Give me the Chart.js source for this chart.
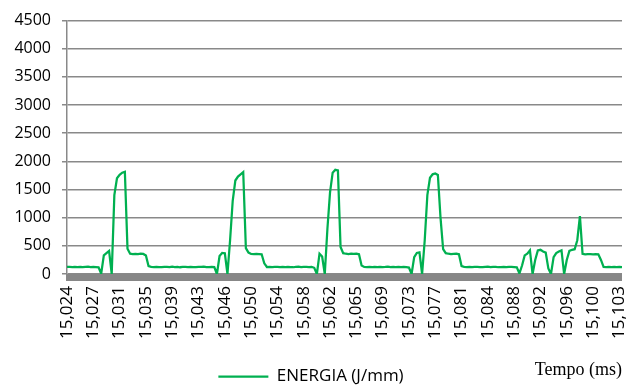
<!DOCTYPE html>
<html lang="pt">
<head>
<meta charset="utf-8">
<title>ENERGIA (J/mm)</title>
<script src="https://cdn.jsdelivr.net/npm/chart.js@4.4.1/dist/chart.umd.min.js"></script>
<style>
    body { margin: 0; background: #ffffff; }
    #chart { display: block; }
</style>
</head>
<body>
<canvas id="chart" width="627" height="390"></canvas>
<script>
const tickLabels = ['15,024', '15,027', '15,031', '15,035', '15,039', '15,043', '15,046', '15,050',
    '15,054', '15,058', '15,062', '15,065', '15,069', '15,073', '15,077', '15,081',
    '15,084', '15,088', '15,092', '15,096', '15,100', '15,103'];
const labelStep = 10;

const energia = [
    125, 128, 122, 126, 124, 127, 121, 125, 129, 123, 126, 124, 118,
    5, 330, 370, 410, 0, 1400, 1700, 1760, 1800, 1815, 450, 360, 355, 358, 352, 360, 356, 330, 140,
    126, 123, 128, 124, 121, 127, 125, 122, 129, 124, 126, 120, 125, 128, 123, 127, 124, 122, 126, 125, 129, 121, 124, 127, 123,
    0, 320, 375, 370, 0, 600, 1300, 1660, 1730, 1770, 1810, 460, 380, 355, 352, 358, 354, 350, 190,
    124, 127, 122, 126, 128, 121, 125, 123, 127, 124, 120, 126, 129, 122, 125, 127, 123, 126, 110,
    0, 360, 310, 0, 800, 1450, 1800, 1850, 1840, 480, 370, 360, 355, 362, 357, 360, 350, 150,
    125, 122, 128, 124, 126, 121, 127, 123, 125, 129, 122, 126, 124, 127, 121, 125, 123, 115,
    0, 300, 375, 385, 0, 600, 1400, 1710, 1770, 1785, 1760, 1000, 440, 370, 360, 355, 358, 362, 350, 140,
    126, 123, 127, 121, 125, 128, 124, 122, 126, 129, 123, 125, 127, 120, 124, 126, 122, 128, 125, 123, 118,
    10, 150, 330, 360, 420, 0, 250, 420, 430, 400, 380, 100, 0, 300, 370, 400, 420, 0,
    250, 410, 430, 440, 600, 1030, 360, 350, 355, 352, 350, 354, 350, 250,
    125, 122, 127, 124, 126, 121, 125, 123
];
const categorias = energia.map((v, i) => i);

const gridColor = '#898989';
const lineColor = '#00b050';

// grey "floor" under the plot, like the Excel chart
const floorPlugin = {
    id: 'floor',
    beforeDatasetsDraw(chart) {
        const { ctx, chartArea } = chart;
        ctx.save();
        ctx.fillStyle = '#878787';
        ctx.fillRect(chartArea.left - 1, chartArea.bottom, chartArea.right - chartArea.left + 1, 7);
        ctx.restore();
    }
};

new Chart(document.getElementById('chart'), {
    type: 'line',
    data: {
        labels: categorias,
        datasets: [{
            label: 'ENERGIA (J/mm)',
            data: energia,
            borderColor: lineColor,
            backgroundColor: lineColor,
            borderWidth: 2.25,
            pointRadius: 0,
            tension: 0,
            fill: false
        }]
    },
    options: {
        responsive: false,
        animation: false,
        layout: {
            padding: { top: 17.5, right: 5, bottom: -5, left: 0 }
        },
        plugins: {
            tooltip: { enabled: false },
            legend: {
                position: 'bottom',
                labels: {
                    usePointStyle: true,
                    pointStyle: 'line',
                    pointStyleWidth: 50,
                    padding: 6,
                    color: '#000000',
                    font: { family: 'Open Sans', size: 17 }
                }
            }
        },
        scales: {
            x: {
                type: 'category',
                offset: false,
                grid: { display: false, drawTicks: false },
                border: { display: false },
                ticks: {
                    autoSkip: false,
                    minRotation: 90,
                    maxRotation: 90,
                    padding: 12,
                    color: '#000000',
                    font: { family: 'Open Sans', size: 17 },
                    callback: (value, index) => index % labelStep === 0 ? tickLabels[index / labelStep] : ''
                },
                title: {
                    display: true,
                    text: 'Tempo (ms)',
                    align: 'end',
                    color: '#000000',
                    font: { family: 'Liberation Serif', size: 18 },
                    padding: { top: 0, bottom: -19 }
                },
                afterFit: (scale) => {
                    scale.height = 88;
                    scale.paddingLeft = 0;
                    scale.paddingRight = 0;
                }
            },
            y: {
                min: 0,
                max: 4500,
                grid: { color: gridColor, lineWidth: 1.5, tickLength: 5 },
                border: { color: gridColor, width: 1.5 },
                ticks: {
                    stepSize: 500,
                    padding: 11,
                    color: '#000000',
                    font: { family: 'Open Sans', size: 16 },
                    callback: (value) => String(value)
                },
                afterFit: (scale) => {
                    scale.width = 67;
                }
            }
        }
    },
    plugins: [floorPlugin]
});
</script>
</body>
</html>
